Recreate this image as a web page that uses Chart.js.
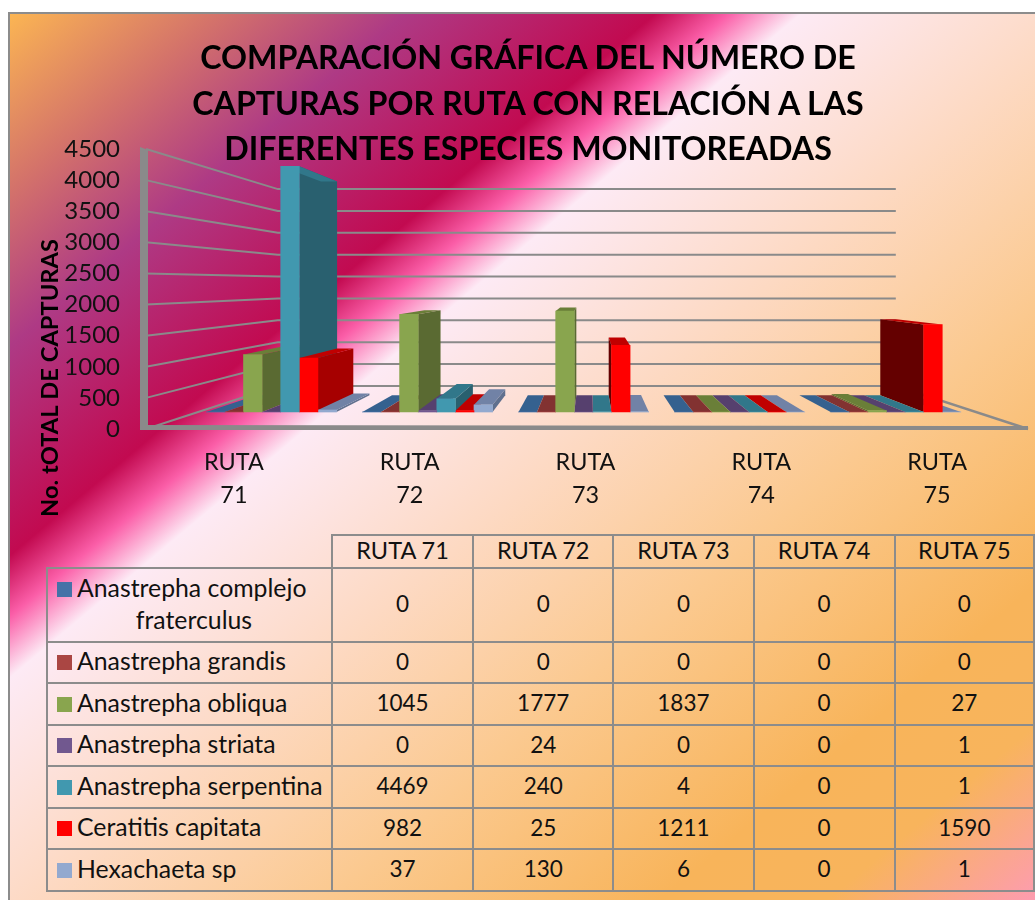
<!DOCTYPE html>
<html lang="es">
<head>
<meta charset="utf-8">
<title>Capturas por ruta</title>
<script src="https://cdn.jsdelivr.net/npm/chart.js@4"></script>
<style>
    html, body { margin: 0; padding: 0; background: #fff; }
    body { width: 1035px; height: 900px; overflow: hidden; position: relative; font-family: Lato, sans-serif; color: #111; }
    #fondo {
        position: absolute; left: 8px; top: 12px; width: 1027px; height: 888px;
        border-left: 2px solid #8c8c8c; border-top: 2px solid #8c8c8c; box-sizing: border-box;
        background: linear-gradient(140deg, #fbb553 0%, #d4736a 10%, #ae3a85 19%, #c20a50 31%, #fb5ea8 34.5%, #fdeaf5 38%, #fdd9c2 52%, #fbc98f 66%, #f8b45a 82%, #f8b45c 90%, #fd9cb0 100%);
    }
    #grafico { position: absolute; left: 0; top: 0; }
    #titulo {
        position: absolute; left: 128px; top: 34px; width: 800px; text-align: center;
        font-size: 32.2px; font-weight: 700; line-height: 45.5px; color: #000;
    }
    #tabla { position: absolute; left: 46px; top: 534px; border-collapse: collapse; table-layout: fixed; font-size: 22.5px; }
    #tabla td, #tabla th { border: 2px solid #8c8c8c; padding: 0 0 3px 0; text-align: center; font-weight: 400; box-sizing: border-box; }
    #tabla th { font-size: 23.5px; }
    #tabla th:first-child { border-top: none; border-left: none; }
    #tabla td.especie { text-align: left; padding-left: 9px; font-size: 24.8px; line-height: 32px; white-space: nowrap; }
    #tabla .clave { display: inline-block; width: 15px; height: 15px; margin-right: 5px; }
    #tabla .linea2 { display: block; text-align: center; }
</style>
</head>
<body>
<div id="fondo"></div>
<canvas id="grafico" width="1035" height="530"></canvas>
<div id="titulo">COMPARACIÓN GRÁFICA DEL NÚMERO DE<br>CAPTURAS POR RUTA CON RELACIÓN A LAS<br>DIFERENTES ESPECIES MONITOREADAS</div>
<table id="tabla"></table>
<script>
// Datos de la gráfica
const rutas = ['RUTA 71', 'RUTA 72', 'RUTA 73', 'RUTA 74', 'RUTA 75'];
const especies = ['Anastrepha complejo fraterculus', 'Anastrepha grandis', 'Anastrepha obliqua', 'Anastrepha striata', 'Anastrepha serpentina', 'Ceratitis capitata', 'Hexachaeta sp'];
const complejoFraterculus = [0, 0, 0, 0, 0];
const grandis = [0, 0, 0, 0, 0];
const obliqua = [1045, 1777, 1837, 0, 27];
const striata = [0, 24, 0, 0, 1];
const serpentina = [4469, 240, 4, 0, 1];
const capitata = [982, 25, 1211, 0, 1590];
const hexachaeta = [37, 130, 6, 0, 1];
const valores = [complejoFraterculus, grandis, obliqua, striata, serpentina, capitata, hexachaeta];
const marcasY = [0, 500, 1000, 1500, 2000, 2500, 3000, 3500, 4000, 4500];

// Colores: cara frontal, tapa, lateral derecho y lateral izquierdo
const coloresFrente = ['#4572a7', '#aa4643', '#89a54e', '#71588f', '#4198af', '#ff0000', '#93a9cf'];
const coloresTapa = ['#35618f', '#823231', '#6a7f38', '#56406e', '#31778a', '#c00000', '#7182a6'];
const coloresLadoDer = ['#2c4d74', '#6f2f2d', '#5a6a32', '#4a3a60', '#29606f', '#a60000', '#60708e'];
const coloresLadoIzq = ['#2c4d74', '#6f2f2d', '#5a6a32', '#4a3a60', '#29606f', '#640000', '#60708e'];
const GRIS = '#8a8a8a';

// Perspectiva: punto de fuga y profundidades relativas al plano frontal
const FUGA = { x: 590, y: 284 };
const FONDO_PARED = 0.297;
const FONDO_BARRA = 0.13;

function proyectar(x, y, t) {
    return { x: x + (FUGA.x - x) * t, y: y + (FUGA.y - y) * t };
}

function poligono(ctx, puntos, color) {
    ctx.fillStyle = color;
    ctx.beginPath();
    puntos.forEach((p, i) => i ? ctx.lineTo(p.x, p.y) : ctx.moveTo(p.x, p.y));
    ctx.closePath();
    ctx.fill();
}

// Paredes, suelo y rejilla, sacados de la escala y
function dibujarParedes(chart) {
    const ctx = chart.ctx, area = chart.chartArea, y = chart.scales.y;
    const izq = area.left, der = area.right, suelo = y.getPixelForValue(0);
    ctx.save();
    ctx.strokeStyle = GRIS;
    ctx.lineWidth = 2;
    marcasY.forEach(v => {
        const py = y.getPixelForValue(v);
        const a = proyectar(izq, py, FONDO_PARED), b = proyectar(der, py, FONDO_PARED);
        ctx.beginPath();
        ctx.moveTo(izq, py);
        ctx.lineTo(a.x, a.y);
        ctx.lineTo(b.x, b.y);
        ctx.stroke();
    });
    const fondoDer = proyectar(der, suelo, FONDO_PARED);
    ctx.lineWidth = 2.5;
    ctx.beginPath();
    ctx.moveTo(der + 3, suelo);
    ctx.lineTo(fondoDer.x, fondoDer.y);
    ctx.stroke();
    // Borde grueso de la pared izquierda y del suelo
    const alto = y.getPixelForValue(4500);
    poligono(ctx, [{ x: izq - 6, y: alto - 2 }, { x: izq + 2, y: alto + 1 }, { x: izq + 2, y: suelo - 4 }, { x: der - 70, y: suelo - 3 }, { x: der + 3, y: suelo - 3 }, { x: der + 3, y: suelo + 1 }, { x: izq - 6, y: suelo + 1 }], GRIS);
    ctx.restore();
}

// Caras laterales y tapas de las barras; las caras frontales las pinta Chart.js
function dibujarVolumen(chart) {
    const ctx = chart.ctx;
    const barras = [];
    chart.data.datasets.forEach((ds, d) => {
        chart.getDatasetMeta(d).data.forEach(el => {
            const p = el.getProps(['x', 'y', 'base', 'width'], true);
            barras.push({ d: d, izq: p.x - p.width / 2, der: p.x + p.width / 2, arriba: p.y, base: p.base, cx: p.x });
        });
    });
    barras.sort((a, b) => Math.abs(b.cx - FUGA.x) - Math.abs(a.cx - FUGA.x));
    barras.forEach(b => {
        const aLaIzq = b.cx < FUGA.x;
        const xl = aLaIzq ? b.der : b.izq;
        if (b.base - b.arriba > 0.3) {
            poligono(ctx, [
                { x: xl, y: b.arriba }, proyectar(xl, b.arriba, FONDO_BARRA),
                proyectar(xl, b.base, FONDO_BARRA), { x: xl, y: b.base }
            ], aLaIzq ? coloresLadoDer[b.d] : coloresLadoIzq[b.d]);
        }
        poligono(ctx, [
            { x: b.izq, y: b.arriba }, { x: b.der, y: b.arriba },
            proyectar(b.der, b.arriba, FONDO_BARRA), proyectar(b.izq, b.arriba, FONDO_BARRA)
        ], coloresTapa[b.d]);
    });
}

const perspectiva = {
    id: 'perspectiva',
    beforeDatasetsDraw(chart) {
        dibujarParedes(chart);
        dibujarVolumen(chart);
    },
    afterDraw(chart) {
        // Título del eje y, centrado más abajo que el área de trazado
        const ctx = chart.ctx;
        ctx.save();
        ctx.translate(50, 378);
        ctx.rotate(-Math.PI / 2);
        ctx.fillStyle = '#000';
        ctx.font = '700 23.7px Lato';
        ctx.textAlign = 'center';
        ctx.textBaseline = 'middle';
        ctx.fillText('No. tOTAL DE CAPTURAS', 0, 0);
        ctx.restore();
    }
};

new Chart(document.getElementById('grafico'), {
    type: 'bar',
    data: {
        labels: rutas,
        datasets: especies.map((nombre, i) => ({
            label: nombre,
            data: valores[i].map((v, r) => ({ x: r, y: v })),
            backgroundColor: coloresFrente[i],
            borderWidth: 0,
            xAxisID: 'xBarras',
            yAxisID: 'yBarras',
            barThickness: 18.6
        }))
    },
    options: {
        responsive: false,
        animation: false,
        layout: { padding: { left: 0, right: 10, top: 149, bottom: 0 } },
        plugins: { legend: { display: false }, tooltip: { enabled: false } },
        scales: {
            x: {
                type: 'category',
                labels: rutas.map(r => r.split(' ')),
                offset: true,
                grid: { display: false },
                border: { display: false },
                ticks: { color: '#111', padding: 9, maxRotation: 0, font: { family: 'Lato', size: 23.4, lineHeight: 1.41 } },
                afterFit(scale) { scale.height = 101; }
            },
            y: {
                min: 0,
                max: 4500,
                afterBuildTicks(scale) { scale.ticks = marcasY.map(v => ({ value: v })); },
                grid: { display: false },
                border: { display: false },
                ticks: { color: '#111', padding: 18, autoSkip: false, callback: v => String(v), font: { family: 'Lato', size: 24 } },
                afterFit(scale) { scale.width = 146; }
            },
            // Plano de las barras, más atrás que el eje frontal
            xBarras: { type: 'linear', display: false, offset: false, min: -0.8035, max: 4.828 },
            yBarras: { display: false, min: -309, max: 4782 }
        }
    },
    plugins: [perspectiva]
});

// Tabla de datos
const tabla = document.getElementById('tabla');
const anchos = [285, 142, 141, 141, 142, 140];
const altos = [33, 74, 41, 42, 41, 42, 41, 42];
let html = '<colgroup>' + anchos.map(a => '<col style="width:' + a + 'px">').join('') + '</colgroup>';
html += '<tr style="height:' + altos[0] + 'px"><th></th>' + rutas.map(r => '<th>' + r + '</th>').join('') + '</tr>';
especies.forEach((nombre, i) => {
    const corte = nombre.lastIndexOf(' ');
    const texto = i === 0
        ? nombre.slice(0, corte) + '<span class="linea2">' + nombre.slice(corte + 1) + '</span>'
        : nombre;
    html += '<tr style="height:' + altos[i + 1] + 'px"><td class="especie"><span class="clave" style="background:' + coloresFrente[i] + '"></span>' + texto + '</td>'
        + valores[i].map(v => '<td>' + v + '</td>').join('') + '</tr>';
});
tabla.innerHTML = html;
</script>
</body>
</html>
